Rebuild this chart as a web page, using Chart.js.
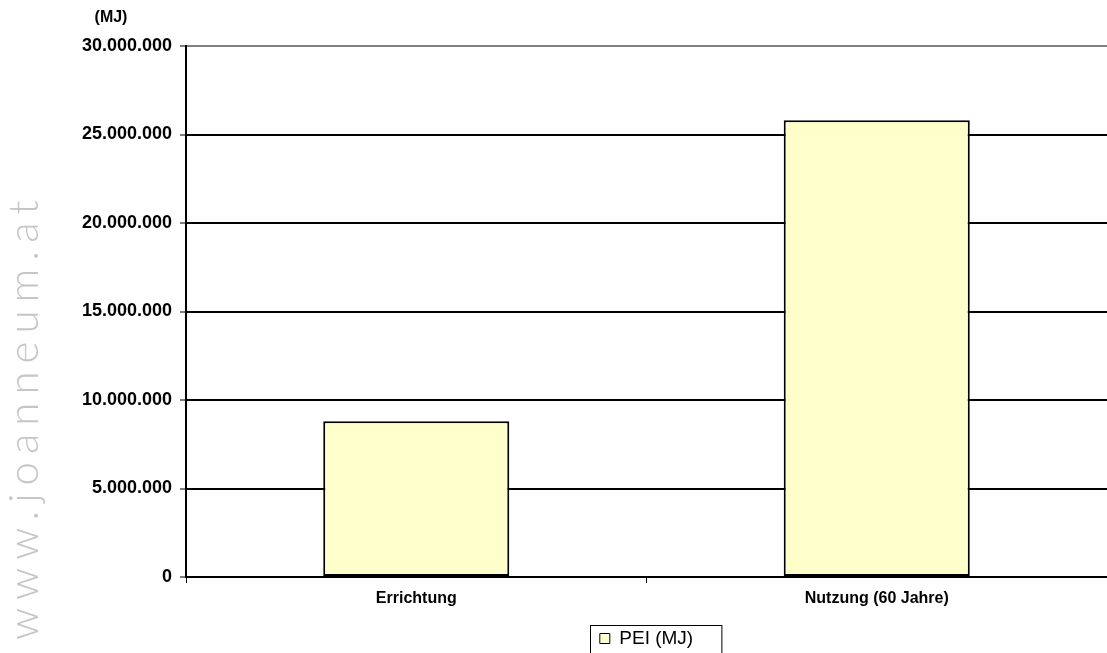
<!DOCTYPE html>
<html lang="de">
<head>
    <meta charset="UTF-8">
    <title>PEI (MJ) - Errichtung / Nutzung</title>
    <script src="https://cdn.jsdelivr.net/npm/chart.js"></script>
    <style>
        html, body { margin: 0; padding: 0; background: #fff; }
        #wrap { position: relative; width: 1107px; height: 653px; }
    </style>
</head>
<body>
    <div id="wrap"><canvas id="peiChart"></canvas></div>

    <script>
        // Daten
        const categories = ['Errichtung', 'Nutzung (60 Jahre)'];
        const peiValues = [8800000, 25800000];
        const seriesLabel = 'PEI (MJ)';
        const yTicks = [0, 5000000, 10000000, 15000000, 20000000, 25000000, 30000000];
        const unitLabel = '(MJ)';
        const watermark = 'www.joanneum.at';

        const fmt = v => v.toLocaleString('de-DE');

        // Einheit oben links, Wasserzeichen links und Rahmen um die Legende
        const extras = {
            id: 'extras',
            afterDraw(chart) {
                const ctx = chart.ctx;
                ctx.save();
                ctx.fillStyle = '#000';
                ctx.font = 'bold 16px "Liberation Sans", Arial, sans-serif';
                ctx.textAlign = 'center';
                ctx.textBaseline = 'middle';
                ctx.fillText(unitLabel, 111, 18);

                // Wasserzeichen
                ctx.translate(38, 640);
                ctx.rotate(-Math.PI / 2);
                ctx.fillStyle = '#c6c6c6';
                ctx.font = '300 42px Lato, "Open Sans", sans-serif';
                ctx.letterSpacing = '8px';
                ctx.textAlign = 'left';
                ctx.textBaseline = 'alphabetic';
                ctx.fillText(watermark, 0, 0);
                ctx.restore();

                // Legendenrahmen
                const hb = chart.legend.legendHitBoxes[0];
                if (hb) {
                    ctx.save();
                    ctx.strokeStyle = '#000';
                    ctx.lineWidth = 1;
                    ctx.strokeRect(Math.round(hb.left) - 9.5, Math.round(hb.top) - 3.5, hb.width + 38, chart.height);
                    ctx.restore();
                }
            }
        };

        const ctx = document.getElementById('peiChart').getContext('2d');
        const peiChart = new Chart(ctx, {
            type: 'bar',
            data: {
                labels: categories,
                datasets: [{
                    label: seriesLabel,
                    data: peiValues,
                    backgroundColor: '#FFFFCC',
                    borderColor: '#000',
                    borderWidth: 2,
                    borderSkipped: false,
                    categoryPercentage: 1,
                    barPercentage: 0.404
                }]
            },
            options: {
                responsive: true,
                maintainAspectRatio: false,
                animation: false,
                layout: { padding: { top: 46, left: 0, right: 0, bottom: -5 } },
                plugins: {
                    tooltip: { enabled: false },
                    legend: {
                        position: 'bottom',
                        fullSize: false,
                        labels: {
                            color: '#000',
                            font: { family: '"Liberation Sans", Arial, sans-serif', size: 19 },
                            boxWidth: 10,
                            boxHeight: 10,
                            padding: 10,
                            generateLabels(chart) {
                                const items = Chart.defaults.plugins.legend.labels.generateLabels(chart);
                                items.forEach(it => { it.lineWidth = 1; });
                                return items;
                            }
                        }
                    }
                },
                scales: {
                    x: {
                        grid: {
                            offset: true,
                            drawOnChartArea: false,
                            drawTicks: true,
                            tickLength: 6,
                            tickColor: '#000',
                            tickWidth: 1
                        },
                        border: { color: '#000', width: 2 },
                        ticks: {
                            color: '#000',
                            padding: 6,
                            font: { family: '"Liberation Sans", Arial, sans-serif', size: 16, weight: 'bold' }
                        },
                        afterFit(scale) { scale.height = 42; }
                    },
                    y: {
                        min: 0,
                        max: 30000000,
                        afterBuildTicks(scale) {
                            scale.ticks = yTicks.map(v => ({ value: v }));
                        },
                        grid: {
                            color: c => (c.tick && c.tick.value === 30000000) ? '#808080' : '#000',
                            lineWidth: 2,
                            drawTicks: true,
                            tickLength: 6,
                            tickColor: '#000',
                            tickWidth: 1
                        },
                        border: { color: '#000', width: 2 },
                        ticks: {
                            color: '#000',
                            padding: 8,
                            font: { family: '"Liberation Sans", Arial, sans-serif', size: 18, weight: 'bold' },
                            callback: v => fmt(v)
                        },
                        afterFit(scale) { scale.width = 186; }
                    }
                }
            },
            plugins: [extras]
        });
    </script>
</body>
</html>
